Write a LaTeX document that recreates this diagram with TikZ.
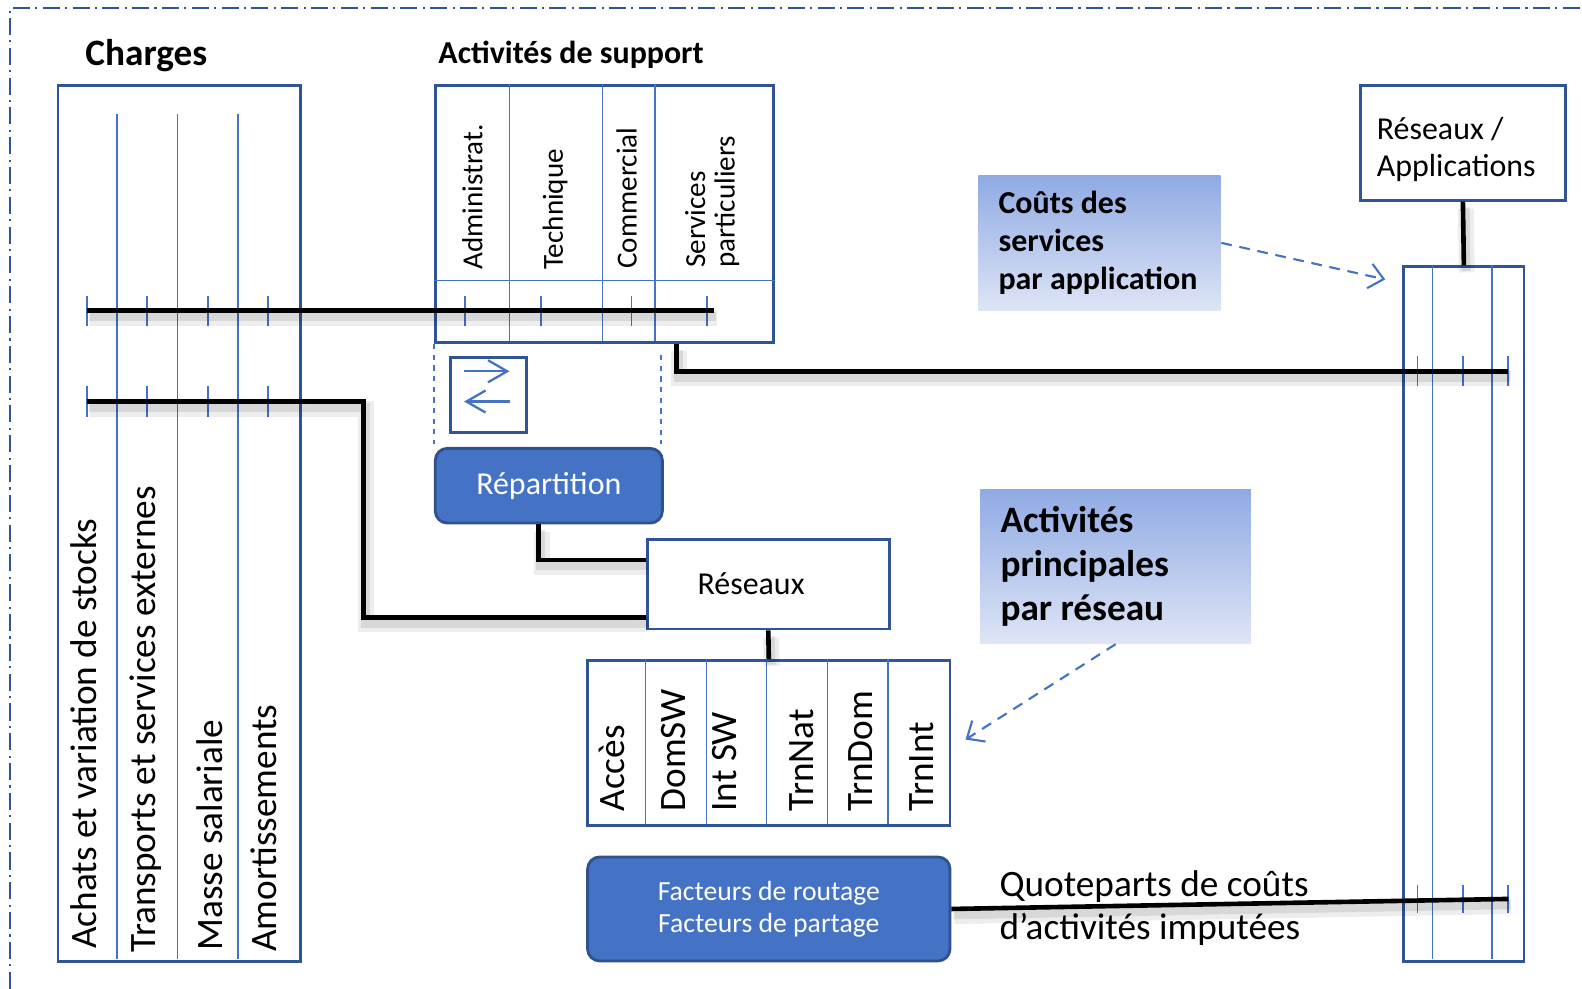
\documentclass[tikz,border=0pt]{standalone}
\usepackage{fontspec}
\setmainfont{Carlito}
\usetikzlibrary{arrows.meta,calc}

\definecolor{boxblue}{HTML}{2F5597}
\definecolor{lineblue}{HTML}{4472C4}
\definecolor{fillblue}{HTML}{4472C4}
\definecolor{edgeblue}{HTML}{2F528F}
\definecolor{shadetop}{RGB}{143,170,227}
\definecolor{shadebot}{RGB}{222,229,246}

\tikzset{
  box/.style={draw=boxblue, line width=0.8pt, anchor=north west, inner sep=0pt, fill=white},
  sepline/.style={draw=lineblue, line width=0.4pt},
  tick/.style={draw=lineblue, line width=0.5pt},
  conn/.style={draw=black, line width=1.3pt,
    preaction={draw=black, opacity=0.07, line width=4.5pt, transform canvas={xshift=0.8pt, yshift=-2pt}},
    preaction={draw=black, opacity=0.09, line width=2.6pt, transform canvas={xshift=0.6pt, yshift=-1.6pt}}},
  note/.style={anchor=north west, top color=shadetop, bottom color=shadebot, inner sep=0pt},
  notetext/.style={anchor=west, inner sep=0pt, align=left},
  bluebox/.style={box, draw=edgeblue, fill=fillblue, rounded corners=0.12cm, text=white},
  coltext/.style={rotate=90, anchor=base west, inner sep=0pt},
  hint/.style={draw=lineblue, line width=0.6pt, dash pattern=on 3pt off 2.2pt, -{Straight Barb[length=4pt,width=7pt]}},
  guide/.style={draw=lineblue, line width=0.4pt, dash pattern=on 1.5pt off 1.5pt},
  swaparrow/.style={draw=lineblue, line width=0.65pt, -{Straight Barb[length=5.4pt,width=6.2pt]}},
  frame/.style={draw=boxblue, line width=0.6pt, dash pattern=on 4.8pt off 1.5pt on 0.6pt off 1.5pt},
}

\begin{document}
\begin{tikzpicture}[x=0.01cm, y=-0.01cm]
\useasboundingbox (0,0) rectangle (1568,980);

% outer frame
\draw[frame] (10,980) -- (10,8) -- (1568,8);

% charges
\node[anchor=base, font=\fontsize{10.5}{12.8}\selectfont\bfseries] (chtitle) at (145,65) {Charges};
\node[box, minimum width=2.40cm, minimum height=8.68cm] (charges) at (56,83) {};
\foreach \x in {116,176,236}
  \draw[sepline] (\x,113) -- (\x,951);
\begin{scope}[every node/.style={coltext, font=\fontsize{10.5}{12.8}\selectfont}]
\node (achats) at (96,941) {Achats et variation de stocks};
\node (transp) at (154,945) {Transports et services externes};
\node (masse) at (221,943) {Masse salariale};
\node (amort) at (274,944) {Amortissements};
\end{scope}

% activites de support
\node[anchor=base, font=\fontsize{9}{11}\selectfont\bfseries] (sptitle) at (566,63) {Activités de support};
\node[box, minimum width=3.35cm, minimum height=2.55cm] (support) at (430,83) {};
\foreach \x in {505,597,649}
  \draw[sepline] (\x,83) -- (\x,338);
\draw[sepline] (support.west |- 0,278) -- (support.east |- 0,278);
\begin{scope}[every node/.style={coltext, font=\fontsize{8.2}{10}\selectfont}]
\node (admin) at (478,268) {Administrat.};
\node (techn) at (558,268) {Technique};
\node (comm) at (631,267) {Commercial};
\node (serv) at (699,266) {Services};
\node (partic) at (728,266) {particuliers};
\end{scope}

% repartition
\draw[guide] (support.south west) -- (430,440);
\draw[guide] (655,352) -- (655,440);
\node[box, minimum width=0.75cm, minimum height=0.74cm] (swap) at (445,353) {};
\draw[swaparrow] (460,368) -- (505,368);
\draw[swaparrow] (505,398) -- (460,398);
\node[bluebox, minimum width=2.25cm, minimum height=0.74cm, font=\fontsize{9}{11}\selectfont] (repart) at (430,443) {Répartition};

% reseaux
\node[box, minimum width=2.40cm, minimum height=0.89cm, text width=1.4cm, inner xsep=0.5cm, align=left,
  font=\fontsize{9}{11}\selectfont] (reseaux) at (640,533) {Réseaux};
\node[box, minimum width=3.59cm, minimum height=1.64cm] (activ) at (581,653) {};
\foreach \x in {640,700,760,820,880}
  \draw[sepline] (\x,653) -- (\x,817);
\begin{scope}[every node/.style={coltext, font=\fontsize{10.5}{12.8}\selectfont}]
\node (acces) at (619,805) {Accès};
\node (domsw) at (679,805) {DomSW};
\node (intsw) at (730,805) {Int SW};
\node (trnnat) at (806,805) {TrnNat};
\node (trndom) at (865,805) {TrnDom};
\node (trnint) at (925,805) {TrnInt};
\end{scope}
\node[bluebox, minimum width=3.59cm, minimum height=1.03cm, align=center,
  font=\fontsize{7.8}{9.1}\selectfont] (facteurs) at (581,848) {Facteurs de routage\\Facteurs de partage};

% reseaux / applications
\node[box, minimum width=2.03cm, minimum height=1.14cm] (resapp) at (1347,83) {};
\node[notetext, font=\fontsize{9}{10.5}\selectfont] (resapptxt) at ([xshift=0.17cm, yshift=-0.065cm]resapp.west)
  {Réseaux /\\Applications};
\node[box, minimum width=1.19cm, minimum height=6.88cm] (appl) at (1390,263) {};
\foreach \x in {1420,1479}
  \draw[sepline] (\x,263) -- (\x,951);

% notes
\node[note, minimum width=2.40cm, minimum height=1.34cm] (couts) at (969,173) {};
\node[notetext, font=\fontsize{9}{10.8}\selectfont\bfseries] (coutstxt) at ([xshift=0.2cm]couts.west)
  {Coûts des\\services\\par application};
\node[note, minimum width=2.68cm, minimum height=1.53cm] (princ) at (971,484) {};
\node[notetext, font=\fontsize{10.5}{12.5}\selectfont\bfseries] (princtxt) at ([xshift=0.2cm]princ.west)
  {Activités\\principales\\par réseau};
\node[notetext, font=\fontsize{10.5}{12}\selectfont] (quote) at (990,900)
  {Quoteparts de coûts\\d’activités imputées};

% ticks
\foreach \y in {308,398}
  \foreach \x in {86,146,206,266}
    \draw[tick] (\x,\y-15) -- (\x,\y+15);
\foreach \x in {461,536,626,701}
  \draw[tick] (\x,293) -- (\x,323);
\foreach \x in {1405,1450,1495} {
  \draw[tick] (\x,353) -- (\x,383);
  \draw[tick] (\x,877) -- (\x,905);
}

% connectors
\coordinate (c1w) at (86,308);
\coordinate (c1e) at (708,308);
\coordinate (c2w) at (86,398);
\coordinate (s3e) at (1495,368);
\coordinate (f3e) at (1495,891);
\coordinate (cArr) at (1373,277);
\coordinate (pArr) at (957,733);
\draw[conn] (c1w) -- (c1e);
\draw[conn] (c2w) -- ++(274,0) |- ([yshift=0.13cm]reseaux.south west);
\draw[conn] ([xshift=-0.1cm]repart.south) |- ([yshift=-0.22cm]reseaux.north west);
\draw[conn] (reseaux.south) -- (activ.north);
\draw[conn] ([xshift=0.715cm]support.south) |- (s3e);
\draw[conn] (resapp.south) -- (appl.north);
\draw[conn] (facteurs.east) -- (f3e);
\draw[hint] (couts.east) -- (cArr);
\draw[hint] (princ.south) -- (pArr);
\end{tikzpicture}
\end{document}
